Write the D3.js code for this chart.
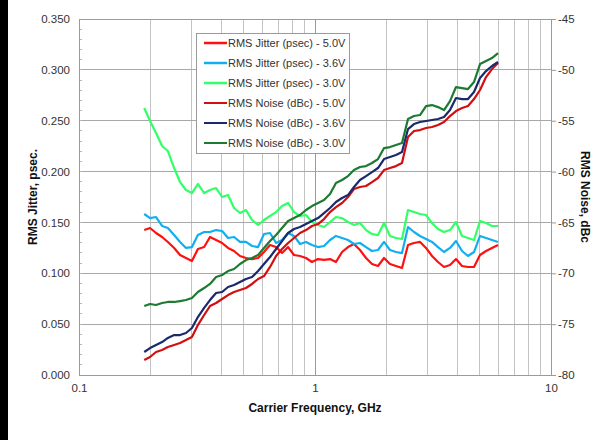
<!DOCTYPE html>
<html><head><meta charset="utf-8">
<script src="https://cdn.jsdelivr.net/npm/d3@7"></script>
<style>html,body{margin:0;padding:0;background:#fff;}svg{display:block;font-family:"Liberation Sans",Arial,sans-serif;}</style>
</head><body>
<svg id="chart" width="606" height="440"></svg>
<script>
const freqGHz = [0.189,0.200,0.212,0.225,0.238,0.253,0.268,0.284,0.301,0.319,0.339,0.359,0.381,0.404,0.428,0.454,0.481,0.510,0.541,0.574,0.608,0.645,0.684,0.725,0.769,0.815,0.864,0.916,0.971,1.030,1.092,1.158,1.227,1.302,1.380,1.463,1.551,1.645,1.744,1.849,1.961,2.079,2.204,2.337,2.478,2.627,2.786,2.954,3.132,3.320,3.521,3.733,3.958,4.197,4.450,4.718,5.003,5.305,5.623,5.963];
const jitter50 = [0.1425,0.1445,0.1396,0.1357,0.1308,0.1249,0.1180,0.1150,0.1121,0.1239,0.1258,0.1357,0.1327,0.1298,0.1249,0.1219,0.1170,0.1150,0.1140,0.1150,0.1209,0.1278,0.1258,0.1199,0.1258,0.1180,0.1170,0.1150,0.1111,0.1140,0.1131,0.1140,0.1111,0.1209,0.1258,0.1288,0.1229,0.1150,0.1091,0.1072,0.1150,0.1091,0.1072,0.1052,0.1278,0.1298,0.1308,0.1249,0.1170,0.1111,0.1062,0.1081,0.1140,0.1072,0.1062,0.1062,0.1180,0.1219,0.1249,0.1278];
const jitter36 = [0.1583,0.1543,0.1553,0.1465,0.1445,0.1376,0.1308,0.1249,0.1258,0.1376,0.1406,0.1406,0.1425,0.1416,0.1347,0.1357,0.1308,0.1308,0.1268,0.1258,0.1386,0.1396,0.1298,0.1327,0.1396,0.1367,0.1288,0.1308,0.1278,0.1258,0.1268,0.1327,0.1367,0.1347,0.1327,0.1288,0.1298,0.1258,0.1219,0.1229,0.1308,0.1229,0.1209,0.1199,0.1455,0.1406,0.1367,0.1337,0.1308,0.1258,0.1209,0.1249,0.1317,0.1219,0.1170,0.1209,0.1367,0.1347,0.1327,0.1308];
const jitter30 = [0.2625,0.2497,0.2379,0.2251,0.2202,0.2035,0.1897,0.1819,0.1789,0.1878,0.1789,0.1819,0.1838,0.1750,0.1770,0.1642,0.1593,0.1622,0.1524,0.1475,0.1524,0.1563,0.1602,0.1661,0.1691,0.1602,0.1563,0.1573,0.1504,0.1475,0.1455,0.1504,0.1553,0.1543,0.1504,0.1475,0.1494,0.1425,0.1386,0.1376,0.1494,0.1367,0.1347,0.1337,0.1622,0.1602,0.1583,0.1573,0.1494,0.1435,0.1406,0.1425,0.1504,0.1367,0.1347,0.1327,0.1514,0.1494,0.1465,0.1465];
const noise50 = [-78.53,-78.23,-77.74,-77.54,-77.25,-77.05,-76.85,-76.56,-76.26,-75.09,-74.10,-73.22,-72.92,-72.53,-72.14,-71.84,-71.64,-71.45,-71.05,-70.56,-70.27,-69.38,-68.30,-67.61,-67.02,-66.53,-66.04,-65.75,-65.35,-65.16,-64.67,-63.98,-63.49,-63.09,-62.50,-61.72,-61.52,-61.42,-61.03,-60.63,-59.85,-59.65,-59.46,-59.16,-56.60,-56.01,-55.92,-55.72,-55.62,-55.42,-55.13,-54.54,-54.05,-53.75,-53.56,-52.87,-51.98,-50.71,-49.92,-49.33];
const noise36 = [-77.74,-77.35,-77.05,-76.76,-76.36,-76.07,-76.07,-75.87,-75.38,-74.30,-73.41,-72.63,-71.94,-71.84,-71.35,-71.15,-70.86,-70.56,-70.37,-69.78,-69.09,-68.40,-67.61,-66.83,-66.04,-65.65,-65.45,-65.16,-64.86,-64.57,-64.08,-63.58,-62.99,-62.60,-62.31,-61.52,-60.83,-60.44,-60.05,-59.65,-58.77,-58.57,-58.37,-58.08,-55.82,-55.33,-55.13,-55.03,-54.93,-54.83,-54.64,-53.95,-52.77,-52.87,-52.87,-52.18,-50.80,-50.12,-49.62,-49.23];
const noise30 = [-73.22,-73.02,-73.12,-72.92,-72.82,-72.82,-72.73,-72.63,-72.43,-71.84,-71.45,-71.05,-70.37,-70.17,-69.78,-69.58,-69.09,-68.70,-68.50,-68.20,-67.52,-66.83,-66.24,-65.55,-64.86,-64.57,-64.27,-63.78,-63.39,-63.09,-62.80,-62.21,-61.13,-60.83,-60.44,-59.85,-59.55,-59.46,-59.16,-58.77,-57.69,-57.59,-57.39,-57.19,-54.83,-54.54,-54.44,-53.56,-53.46,-53.66,-53.95,-53.07,-51.69,-51.79,-51.89,-51.20,-49.43,-49.13,-48.84,-48.35];

const seriesNames = ["RMS Jitter (psec) - 5.0V","RMS Jitter (psec) - 3.6V","RMS Jitter (psec) - 3.0V","RMS Noise (dBc) - 5.0V","RMS Noise (dBc) - 3.6V","RMS Noise (dBc) - 3.0V"];
const leftTicks = [0,0.05,0.10,0.15,0.20,0.25,0.30,0.35];
const rightTicks = [-80,-75,-70,-65,-60,-55,-50,-45];
const xTicks = [0.1,1,10];
const xTickLabels = ["0.1","1","10"];

const svg = d3.select("#chart");
const L=79, R=551, T=19, B=375;
const x = d3.scaleLog().domain([0.1,10]).range([L,R]);
const yL = d3.scaleLinear().domain([0,0.35]).range([B,T]);
const yR = d3.scaleLinear().domain([-80,-45]).range([B,T]);

svg.append("rect").attr("x",0).attr("y",0).attr("width",606).attr("height",440).attr("fill","#fff");
svg.append("rect").attr("x",0).attr("y",0).attr("width",8).attr("height",440).attr("fill","#000");

// vertical grid
const minorX = [];
[0.1,1].forEach(d=>{for(let k=2;k<=9;k++) minorX.push(+(d*k).toFixed(2));});
svg.append("g").selectAll("line").data(minorX).join("line")
  .attr("x1",d=>x(d)).attr("x2",d=>x(d)).attr("y1",T).attr("y2",B)
  .attr("stroke","#c4c4c4").attr("stroke-width",1).attr("shape-rendering","crispEdges");
svg.append("line").attr("x1",x(1)).attr("x2",x(1)).attr("y1",T).attr("y2",B)
  .attr("stroke","#9a9a9a").attr("stroke-width",1).attr("shape-rendering","crispEdges");
// horizontal grid
svg.append("g").selectAll("line").data(leftTicks).join("line")
  .attr("x1",L).attr("x2",R).attr("y1",d=>yL(d)).attr("y2",d=>yL(d))
  .attr("stroke","#a8a8a8").attr("stroke-width",1).attr("shape-rendering","crispEdges");
// minor ticks on left
const minorY = d3.range(0,36).map(i=>i/100);
svg.append("g").selectAll("line").data(minorY).join("line")
  .attr("x1",L).attr("x2",L+3).attr("y1",d=>yL(d)).attr("y2",d=>yL(d))
  .attr("stroke","#b8b8b8").attr("shape-rendering","crispEdges");

// frame
svg.append("rect").attr("x",L).attr("y",T).attr("width",R-L).attr("height",B-T)
  .attr("fill","none").attr("stroke","#9a9a9a").attr("shape-rendering","crispEdges");

// axes
const axL = svg.append("g").attr("transform",`translate(${L},0)`)
  .call(d3.axisLeft(yL).tickValues(leftTicks).tickFormat(d3.format(".3f")).tickSize(0).tickPadding(9));
const axR = svg.append("g").attr("transform",`translate(${R},0)`)
  .call(d3.axisRight(yR).tickValues(rightTicks).tickFormat(d=>String(d)).tickSize(5).tickPadding(2));
const axB = svg.append("g").attr("transform",`translate(0,${B})`)
  .call(d3.axisBottom(x).tickValues(xTicks).tickFormat((d,i)=>xTickLabels[i]).tickSize(0).tickPadding(9));
[axL,axR,axB].forEach(a=>{
  a.select(".domain").remove();
  a.selectAll("text").attr("font-size","11.5px").attr("fill","#333").attr("font-family","'Liberation Sans',Arial,sans-serif");
  a.selectAll("line").attr("stroke","#9a9a9a");
});

// titles
svg.append("text").attr("x",315).attr("y",412).attr("text-anchor","middle")
  .attr("font-size","12px").attr("font-weight","bold").attr("fill","#111").text("Carrier Frequency, GHz");
svg.append("text").attr("transform","translate(37,197) rotate(-90)").attr("text-anchor","middle")
  .attr("font-size","12px").attr("font-weight","bold").attr("fill","#111").text("RMS Jitter, psec.");
svg.append("text").attr("transform","translate(581,197) rotate(90)").attr("text-anchor","middle")
  .attr("font-size","12px").attr("font-weight","bold").attr("fill","#111").text("RMS Noise, dBc");

const colors = ["#ff1010","#10b0f0","#33ff66","#d01010","#1a2a6c","#1c7a32"];
const jit = [jitter50,jitter36,jitter30];
const noi = [noise50,noise36,noise30];
const lineL = d3.line().x((d,i)=>x(freqGHz[i])).y(d=>yL(d));
const lineR = d3.line().x((d,i)=>x(freqGHz[i])).y(d=>yR(d));
const gl = svg.append("g");
jit.forEach((s,k)=>gl.append("path").attr("d",lineL(s)).attr("fill","none").attr("stroke",colors[k]).attr("stroke-width",2.2).attr("stroke-linejoin","round"));
noi.forEach((s,k)=>gl.append("path").attr("d",lineR(s)).attr("fill","none").attr("stroke",colors[k+3]).attr("stroke-width",2.2).attr("stroke-linejoin","round"));

// legend
const lg = svg.append("g");
lg.append("rect").attr("x",196).attr("y",33).attr("width",153).attr("height",120)
  .attr("fill","#fff").attr("stroke","#9a9a9a").attr("shape-rendering","crispEdges");
seriesNames.forEach((n,i)=>{
  const yy = 43 + i*20;
  lg.append("line").attr("x1",204).attr("x2",227).attr("y1",yy).attr("y2",yy)
    .attr("stroke",colors[i]).attr("stroke-width",i<3?2.5:2);
  lg.append("text").attr("x",228).attr("y",yy+4).attr("font-size","11px").attr("fill","#333").text(n);
});
</script>
</body></html>
